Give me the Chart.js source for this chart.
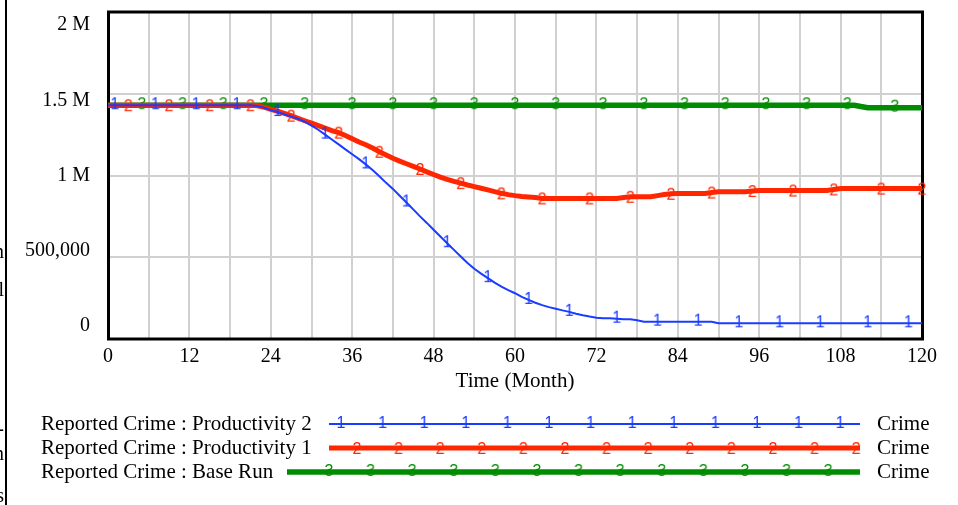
<!DOCTYPE html>
<html>
<head>
<meta charset="utf-8">
<title>Reported Crime</title>
<script src="https://cdn.jsdelivr.net/npm/chart.js@4.4.1/dist/chart.umd.min.js"></script>
<style>
  html, body { margin: 0; padding: 0; background: #fff; overflow: hidden; }
  canvas { display: block; }
</style>
</head>
<body>
<canvas id="chart" width="958" height="505"></canvas>
<script>
// Simulation time axis (months)
const months = [
  0, 1, 2, 3, 4, 5, 6, 7, 8, 9, 10, 11, 12, 13, 14, 15, 16, 17, 18, 19,
  20, 21, 22, 23, 24, 25, 26, 27, 28, 29, 30, 31, 32, 33, 34, 35, 36, 37, 38, 39,
  40, 41, 42, 43, 44, 45, 46, 47, 48, 49, 50, 51, 52, 53, 54, 55, 56, 57, 58, 59,
  60, 61, 62, 63, 64, 65, 66, 67, 68, 69, 70, 71, 72, 73, 74, 75, 76, 77, 78, 79,
  80, 81, 82, 83, 84, 85, 86, 87, 88, 89, 90, 91, 92, 93, 94, 95, 96, 97, 98, 99,
  100, 101, 102, 103, 104, 105, 106, 107, 108, 109, 110, 111, 112, 113, 114, 115, 116, 117, 118, 119,
  120
];

// Reported Crime : Productivity 2
const productivity2 = [
  1430000, 1430000, 1430000, 1430000, 1430000, 1430000, 1430000, 1430000, 1430000, 1430000,
  1430000, 1430000, 1430000, 1430000, 1430000, 1430000, 1430000, 1430000, 1430000, 1430000,
  1430000, 1430000, 1425000, 1415000, 1400000, 1388000, 1375000, 1360000, 1347000, 1330000,
  1305000, 1280000, 1250000, 1220000, 1190000, 1160000, 1130000, 1100000, 1068000, 1033000,
  995000, 955000, 918000, 876000, 835000, 793000, 750000, 710000, 668000, 627000,
  586000, 545000, 505000, 465000, 430000, 400000, 372000, 345000, 320000, 299000,
  280000, 258000, 239000, 222000, 207000, 195000, 185000, 175000, 166000, 155000,
  145000, 137000, 130000, 127000, 127000, 124000, 121000, 121000, 115000, 106000,
  106000, 106000, 106000, 106000, 106000, 106000, 106000, 106000, 106000, 106000,
  96000, 96000, 96000, 96000, 96000, 96000, 96000, 96000, 96000, 96000,
  96000, 96000, 96000, 96000, 96000, 96000, 96000, 96000, 96000, 96000,
  96000, 96000, 96000, 96000, 96000, 96000, 96000, 96000, 96000, 96000,
  96000
];

// Reported Crime : Productivity 1
const productivity1 = [
  1430000, 1430000, 1430000, 1430000, 1430000, 1430000, 1430000, 1430000, 1430000, 1430000,
  1430000, 1430000, 1430000, 1430000, 1430000, 1430000, 1430000, 1430000, 1430000, 1430000,
  1430000, 1430000, 1427000, 1418000, 1405000, 1393000, 1380000, 1366000, 1350000, 1335000,
  1320000, 1305000, 1290000, 1275000, 1262000, 1245000, 1225000, 1205000, 1188000, 1168000,
  1145000, 1125000, 1105000, 1088000, 1072000, 1056000, 1040000, 1022000, 1006000, 990000,
  976000, 964000, 953000, 942000, 932000, 922000, 912000, 901000, 891000, 883000,
  877000, 872000, 869000, 865000, 860000, 860000, 860000, 860000, 860000, 860000,
  860000, 860000, 860000, 860000, 860000, 860000, 866000, 870000, 870000, 870000,
  870000, 877000, 884000, 888000, 890000, 890000, 890000, 890000, 890000, 896000,
  900000, 900000, 900000, 900000, 900000, 905000, 908000, 908000, 908000, 908000,
  908000, 908000, 908000, 908000, 908000, 908000, 908000, 915000, 920000, 920000,
  920000, 920000, 920000, 920000, 920000, 920000, 920000, 920000, 920000, 920000,
  920000
];

// Reported Crime : Base Run
const baseRun = [
  1430000, 1430000, 1430000, 1430000, 1430000, 1430000, 1430000, 1430000, 1430000, 1430000,
  1430000, 1430000, 1430000, 1430000, 1430000, 1430000, 1430000, 1430000, 1430000, 1430000,
  1430000, 1430000, 1430000, 1430000, 1430000, 1430000, 1430000, 1430000, 1430000, 1430000,
  1430000, 1430000, 1430000, 1430000, 1430000, 1430000, 1430000, 1430000, 1430000, 1430000,
  1430000, 1430000, 1430000, 1430000, 1430000, 1430000, 1430000, 1430000, 1430000, 1430000,
  1430000, 1430000, 1430000, 1430000, 1430000, 1430000, 1430000, 1430000, 1430000, 1430000,
  1430000, 1430000, 1430000, 1430000, 1430000, 1430000, 1430000, 1430000, 1430000, 1430000,
  1430000, 1430000, 1430000, 1430000, 1430000, 1430000, 1430000, 1430000, 1430000, 1430000,
  1430000, 1430000, 1430000, 1430000, 1430000, 1430000, 1430000, 1430000, 1430000, 1430000,
  1430000, 1430000, 1430000, 1430000, 1430000, 1430000, 1430000, 1430000, 1430000, 1430000,
  1430000, 1430000, 1430000, 1430000, 1430000, 1430000, 1430000, 1430000, 1430000, 1430000,
  1430000, 1422000, 1415000, 1415000, 1415000, 1415000, 1415000, 1415000, 1415000, 1415000,
  1415000
];

// Axis ticks
const yTickValues = [0, 500000, 1000000, 1500000, 2000000];
const yTickLabels = ['0', '500,000', '1 M', '1.5 M', '2 M'];
const xAxisTitle = 'Time (Month)';

// Series names and the unit shown at the end of each legend row
const seriesNames = [
  'Reported Crime : Productivity 2',
  'Reported Crime : Productivity 1',
  'Reported Crime : Base Run'
];
const seriesUnit = 'Crime';

// Month indices where each run carries its number tag
const tagMonths2 = [1, 7, 13, 19, 25, 32, 38, 44, 50, 56, 62, 68, 75, 81, 87, 93, 99, 105, 112, 118];
const tagMonths1 = [3, 9, 15, 21, 27, 34, 40, 46, 52, 58, 64, 71, 77, 83, 89, 95, 101, 107, 114, 120];
const tagMonthsBase = [5, 11, 17, 23, 29, 36, 42, 48, 54, 60, 66, 73, 79, 85, 91, 97, 103, 109, 116];

const SERIF = '"Liberation Serif", "Times New Roman", Times, serif';
const SANS = '"Liberation Sans", Arial, Helvetica, sans-serif';

// Small canvas with a run number, used as the point glyph
function makeTag(ch, color, dy) {
  const c = document.createElement('canvas');
  c.width = 16; c.height = 24;
  const g = c.getContext('2d');
  g.font = '16px ' + SANS;
  g.fillStyle = color;
  g.textAlign = 'center';
  g.textBaseline = 'middle';
  g.fillText(ch, 8, 12 + dy);
  return c;
}

const styles = [
  { color: 'rgb(25,60,255)', width: 2,   tag: makeTag('1', 'rgb(25,60,255)', 0), tags: tagMonths2 },
  { color: 'rgb(255,38,0)',  width: 5,   tag: makeTag('2', 'rgb(255,38,0)', 2),  tags: tagMonths1 },
  { color: 'rgb(0,140,0)',   width: 5.5, tag: makeTag('3', 'rgb(0,140,0)', 0),   tags: tagMonthsBase }
];
const values = [productivity2, productivity1, baseRun];

const datasets = values.map((vals, k) => {
  const st = styles[k];
  return {
    label: seriesNames[k],
    data: vals.map((v, i) => ({ x: months[i], y: v })),
    borderColor: st.color,
    borderWidth: st.width,
    backgroundColor: st.color,
    fill: false,
    tension: 0,
    pointStyle: st.tag,
    pointRadius: ctx => (st.tags.includes(months[ctx.dataIndex]) ? 6 : 0),
    pointHoverRadius: 0,
    clip: 8
  };
});

// Frame, y labels, axis title, legend and page edge
const decorations = {
  id: 'decorations',
  beforeDatasetsDraw(chart) {
    const { ctx, chartArea: a } = chart;
    ctx.save();
    ctx.strokeStyle = '#000';
    ctx.lineWidth = 3;
    ctx.strokeRect(a.left + 0.5, a.top, a.right - a.left, a.bottom - a.top);
    ctx.restore();
  },
  afterDraw(chart) {
    const { ctx, chartArea: a } = chart;
    const yScale = chart.scales.y;
    ctx.save();
    ctx.fillStyle = '#000';
    ctx.font = '20px ' + SERIF;
    ctx.textBaseline = 'middle';

    // y labels, spread between the top and bottom of the frame
    const h = a.bottom - a.top;
    ctx.textAlign = 'right';
    yTickValues.forEach((v, i) => {
      const frac = (yScale.max - v) / (yScale.max - yScale.min);
      const y = a.top + 13 + frac * (h - 26);
      ctx.fillText(yTickLabels[i], 90, y);
    });

    ctx.font = '21px ' + SERIF;
    // x axis title
    ctx.textAlign = 'center';
    ctx.fillText(xAxisTitle, (a.left + a.right) / 2, 381);

    // legend rows
    const rows = [
      { y: 424, x0: 329, x1: 860, first: 341 },
      { y: 448, x0: 329, x1: 860, first: 357 },
      { y: 472, x0: 287, x1: 860, first: 329 }
    ];
    rows.forEach((r, k) => {
      const st = styles[k];
      ctx.textAlign = 'left';
      ctx.fillStyle = '#000';
      ctx.fillText(seriesNames[k], 41, r.y);
      ctx.fillText(seriesUnit, 877, r.y);
      ctx.strokeStyle = st.color;
      ctx.lineWidth = st.width;
      ctx.beginPath();
      ctx.moveTo(r.x0, r.y);
      ctx.lineTo(r.x1, r.y);
      ctx.stroke();
      for (let j = 0; j < 13; j++) {
        const x = r.first + j * 41.6;
        ctx.drawImage(st.tag, x - st.tag.width / 2, r.y - st.tag.height / 2);
      }
    });

    // page edge on the left with the clipped ends of neighbouring text
    ctx.fillStyle = '#000';
    ctx.fillRect(5, 0, 2, 505);
    ctx.beginPath();
    ctx.rect(0, 0, 5, 505);
    ctx.clip();
    ctx.textAlign = 'right';
    ctx.font = '20px ' + SERIF;
    [['n', 253], ['l', 291], ['-', 430], ['n', 455], ['s', 497]].forEach(([ch, y]) => {
      ctx.fillText(ch, 4, y);
    });
    ctx.restore();
  }
};

Chart.defaults.font.family = SERIF;
Chart.defaults.color = '#000';

new Chart(document.getElementById('chart'), {
  type: 'line',
  data: { datasets },
  plugins: [decorations],
  options: {
    responsive: false,
    animation: false,
    events: [],
    layout: { padding: { left: 0, right: 36, top: 12, bottom: 0 } },
    plugins: { legend: { display: false }, tooltip: { enabled: false }, title: { display: false } },
    scales: {
      x: {
        type: 'linear',
        min: 0,
        max: 120,
        border: { display: false },
        grid: { color: 'rgb(208,208,208)', lineWidth: 2, drawTicks: false },
        ticks: {
          stepSize: 6,
          autoSkip: false,
          maxRotation: 0,
          padding: 6,
          font: { size: 20, family: SERIF },
          color: '#000',
          callback: v => (v % 12 === 0 ? String(v) : '')
        },
        afterFit(scale) { scale.height = 505 - 339; }
      },
      y: {
        type: 'linear',
        min: 0,
        max: 2000000,
        border: { display: false },
        grid: { color: 'rgb(208,208,208)', lineWidth: 2, drawTicks: false },
        ticks: { display: false, stepSize: 500000 },
        afterFit(scale) { scale.width = 108; }
      }
    }
  }
});
</script>
</body>
</html>
